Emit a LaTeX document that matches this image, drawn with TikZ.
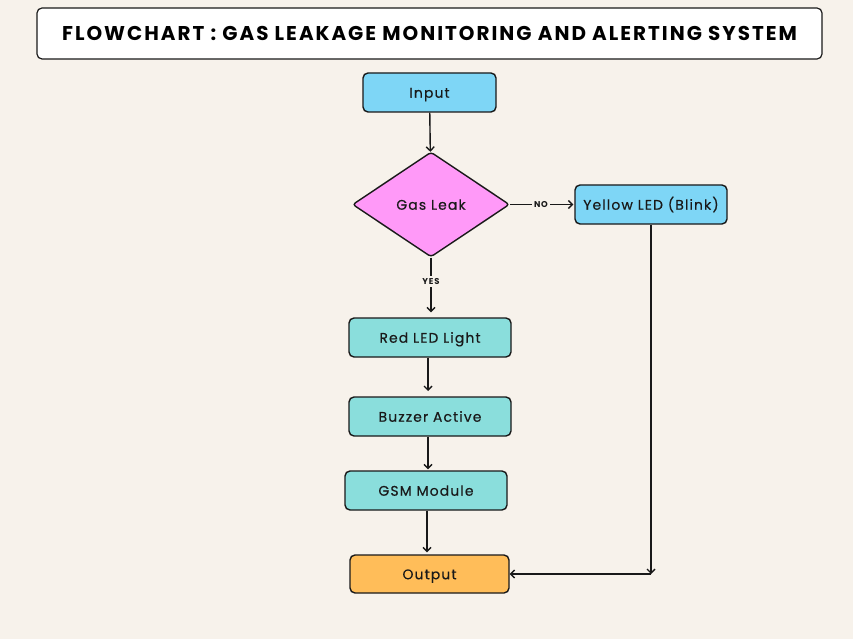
\documentclass[tikz,border=0pt]{standalone}
\usepackage{fontspec}
\setmainfont{Poppins}
\newfontfamily\titlefont[LetterSpace=10]{Poppins}
\newfontfamily\bodyfont[LetterSpace=8,FakeBold=0.35]{Poppins}
\usetikzlibrary{shapes.geometric,arrows.meta}
\definecolor{bgc}{RGB}{247,242,235}
\definecolor{bluec}{RGB}{126,214,246}
\definecolor{tealc}{RGB}{138,222,220}
\definecolor{pinkc}{RGB}{255,153,248}
\definecolor{orangec}{RGB}{255,189,89}
\definecolor{linec}{RGB}{25,25,25}
\tikzset{
  box/.style={draw=linec, line width=1.4bp, rounded corners=5bp, inner sep=0pt,
    text height=10.5pt, text depth=0pt,
    font=\bodyfont\fontsize{14}{16}\selectfont, text=linec},
  dec/.style={draw=linec, line width=1.4bp, diamond, rounded corners=3bp, inner sep=0pt,
    minimum width=157bp, minimum height=105bp, fill=pinkc,
    text height=10.5pt, text depth=0pt,
    font=\bodyfont\fontsize{14}{16}\selectfont, text=linec},
  arr/.style={draw=linec, line width=1.4bp, -{Straight Barb[length=4bp,width=8bp,line width=1.4bp]}},
  lbl/.style={fill=bgc, inner sep=2.5pt, font=\titlefont\bfseries\fontsize{8.5}{9}\selectfont, text=linec},
}
\begin{document}
\begin{tikzpicture}[x=1bp,y=-1bp]
\fill[bgc] (0,0) rectangle (853,639);
\useasboundingbox (0,0) rectangle (853,639);
\node[draw=linec, line width=1.2bp, rounded corners=5bp, fill=white, minimum width=785bp, minimum height=51bp, inner sep=0pt,
  text height=13.5pt, text depth=0pt,
  font=\titlefont\bfseries\fontsize{20}{22}\selectfont, text=black] (title) at (429.5,33.5) {FLOWCHART : GAS LEAKAGE MONITORING AND ALERTING SYSTEM};
\node[box, fill=bluec, minimum width=133bp, minimum height=39bp] (in) at (429.5,92.5) {Input};
\node[dec] (gas) at (431,204.5) {Gas Leak};
\node[box, fill=bluec, minimum width=152bp, minimum height=39bp] (yel) at (651,204.5) {Yellow LED (Blink)};
\node[box, fill=tealc, minimum width=162bp, minimum height=39bp] (red) at (430,337.5) {Red LED Light};
\node[box, fill=tealc, minimum width=162bp, minimum height=39bp] (buz) at (430,416.5) {Buzzer Active};
\node[box, fill=tealc, minimum width=162bp, minimum height=39bp] (gsm) at (426,490.5) {GSM Module};
\node[box, fill=orangec, minimum width=159bp, minimum height=38bp] (out) at (429.5,574) {Output};
\coordinate (corner) at (651,574);
\draw[arr] (in) -- (gas);
\draw[arr, shorten >=1bp] (gas.east) -- node[lbl, pos=0.48] {NO} (yel.west);
\draw[arr, shorten >=5bp] (gas.south) -- node[lbl, pos=0.4] {YES} (gas.south |- red.north);
\draw[arr, shorten >=6bp] (red.south -| 428,0) -- (428,397);
\draw[arr, shorten >=1bp] (buz.south -| 428,0) -- (gsm.north -| 428,0);
\draw[arr, shorten >=2bp] (gsm.south -| 427,0) -- (out.north -| 427,0);
\draw[arr] (yel.south) -- (corner);
\draw[arr] (corner) -- (out.east);
\end{tikzpicture}
\end{document}
